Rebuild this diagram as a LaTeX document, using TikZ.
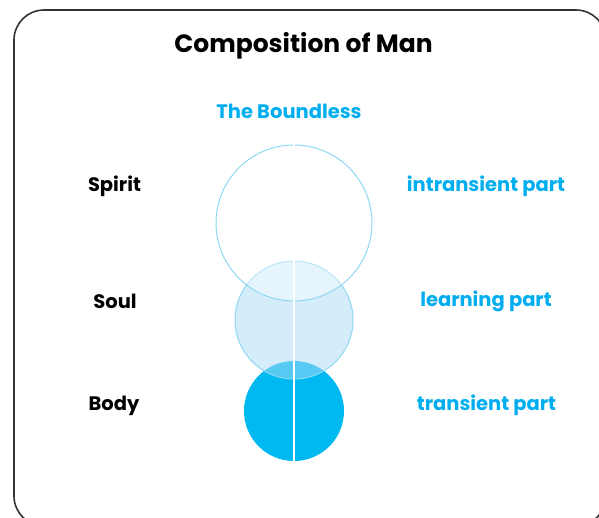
\documentclass[tikz,border=0pt]{standalone}
\usepackage{fontspec}
\setmainfont{Poppins}
\definecolor{inkblue}{RGB}{0,174,239}
\definecolor{bodyfill}{RGB}{0,185,241}
\definecolor{rimblue}{RGB}{141,216,243}
\definecolor{soulfill}{RGB}{172,219,245}
\definecolor{frame}{RGB}{51,51,51}
\tikzset{
  title/.style={font=\bfseries\fontsize{25}{28}\selectfont, text=black},
  leftlabel/.style={font=\bfseries\fontsize{19.5}{22}\selectfont, text=black},
  rightlabel/.style={font=\bfseries\fontsize{19.5}{22}\selectfont, text=inkblue},
}
\begin{document}
\begin{tikzpicture}[x=1pt,y=-1pt]
  \useasboundingbox (0,0) rectangle (599,517);
  \clip (0,0) rectangle (599,517);
  % outer frame
  \draw[frame, line width=1.6pt, rounded corners=30pt] (14,10) rectangle (606,526);

  % three nested circles: body, soul, spirit
  \fill[bodyfill] (294,411) circle[radius=50];
  \filldraw[draw=rimblue, fill=soulfill, fill opacity=0.5, line width=1pt] (294,320) circle[radius=59];
  \filldraw[draw=rimblue, fill=white, fill opacity=0.4, line width=1pt] (294,223) circle[radius=78];
  \coordinate (axtop) at (294,144);
  \coordinate (axbot) at (294,462);
  \draw[white, line width=1.6pt] (axtop) -- (axbot);

  % texts
  \node[title] (ttl) at (303.5,46) {Composition of Man};
  \node[rightlabel] (bnd) at (289,111) {The Boundless};
  \node[leftlabel] (spirit) at (114.5,186.5) {Spirit};
  \node[leftlabel] (soul) at (115,301.5) {Soul};
  \node[leftlabel] (body) at (114,405.5) {Body};
  \node[rightlabel] (intr) at (486,186.5) {intransient part};
  \node[rightlabel] (learn) at (486,301.5) {learning part};
  \node[rightlabel] (trans) at (486.5,405.5) {transient part};
\end{tikzpicture}
\end{document}
